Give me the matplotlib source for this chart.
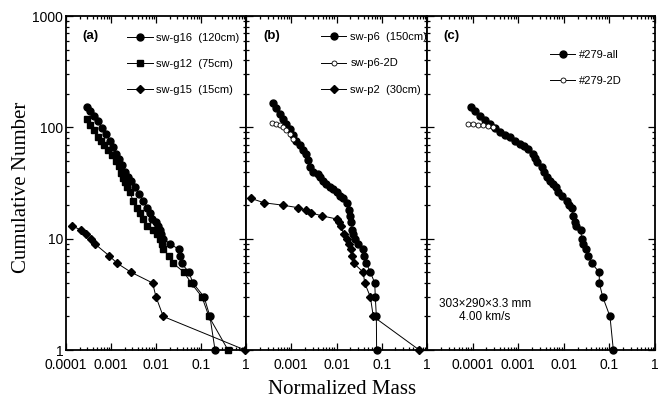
import matplotlib
matplotlib.use("Agg")
import matplotlib.pyplot as plt
from matplotlib.ticker import FixedLocator, FixedFormatter, LogLocator, NullFormatter

# ---------------- data ----------------
# panel (a)
g16_mass = [0.000288, 0.000341, 0.000419, 0.000514, 0.00063, 0.00077, 0.00095, 0.00111, 0.00129,
            0.00151, 0.00175, 0.00205, 0.00239, 0.00278, 0.00341, 0.00419, 0.00514, 0.0063, 0.00736,
            0.00815, 0.0100, 0.0111, 0.0123, 0.0129, 0.0143, 0.0205, 0.0324, 0.0343, 0.0369, 0.054,
            0.066, 0.117, 0.158, 0.205]
g16_n = [152, 140, 126, 113, 98, 87, 75, 66, 58, 52, 46, 40, 36, 33, 29, 25, 22, 19, 17, 15, 14, 13,
         12, 11, 10, 9, 8, 7, 6, 5, 4, 3, 2, 1]

g12_mass = [0.000288, 0.000341, 0.000419, 0.000506, 0.0006, 0.0007, 0.000858, 0.00105, 0.00129,
            0.00151, 0.00167, 0.00185, 0.00205, 0.00227, 0.00264, 0.00308, 0.00378, 0.0044, 0.00514,
            0.0063, 0.00858, 0.0105, 0.0123, 0.0136, 0.0143, 0.0195, 0.024, 0.042, 0.06, 0.105, 0.15,
            0.398]
g12_n = [118, 105, 94, 82, 75, 69, 62, 56, 50, 45, 39, 35, 32, 29, 26, 22, 19, 17, 15, 13, 12, 11,
         10, 9, 8, 7, 6, 5, 4, 3, 2, 1]

g15_mass = [0.000138, 0.000212, 0.000278, 0.000354, 0.000435, 0.000917, 0.00138, 0.00278, 0.0084,
            0.0100, 0.0145, 0.95]
g15_n = [13, 12, 11, 10, 9, 7, 6, 5, 4, 3, 2, 1]

# panel (b)
p6_mass = [0.000392, 0.000464, 0.00055, 0.000655, 0.000774, 0.000916, 0.00109, 0.00129, 0.00153,
           0.00182, 0.00215, 0.00235, 0.00255, 0.00303, 0.00392, 0.0044, 0.00506, 0.006, 0.0071,
           0.00845, 0.0100, 0.0118, 0.0141, 0.0167, 0.0185, 0.0198, 0.0212, 0.0223, 0.0235, 0.026,
           0.0293, 0.038, 0.041, 0.0457, 0.056, 0.070, 0.072, 0.076, 0.077]
p6_n = [166, 149, 133, 120, 108, 96, 85, 76, 69, 63, 58, 51, 44, 40, 38, 36, 33, 31, 29, 28, 26, 24,
        23, 21, 18, 16, 14, 12, 11, 10, 9, 8, 7, 6, 5, 4, 3, 2, 1]

p6_2d_mass = [0.000379, 0.000464, 0.00055, 0.000654, 0.000774, 0.000917, 0.00109]
p6_2d_n = [110, 108, 104, 100, 94, 88, 79]

p2_mass = [0.000129, 0.000251, 0.000647, 0.00139, 0.00216, 0.00278, 0.00489, 0.01026, 0.01125,
           0.0123, 0.0145, 0.0173, 0.0188, 0.0205, 0.0222, 0.0241, 0.039, 0.042, 0.056, 0.065, 0.675]
p2_n = [23, 21, 20, 19, 18, 17, 16, 15, 14, 13, 11, 10, 9, 8, 7, 6, 5, 4, 3, 2, 1]

# panel (c)
all_mass = [0.0000908, 0.000113, 0.000145, 0.000187, 0.000241, 0.00031, 0.000399, 0.000514, 0.000661,
            0.000851, 0.00109, 0.00134, 0.00166, 0.00214, 0.00233, 0.00254, 0.00327, 0.00368, 0.00421,
            0.00498, 0.00589, 0.00675, 0.00757, 0.00936, 0.0116, 0.013, 0.0149, 0.0162, 0.0176, 0.0185,
            0.0235, 0.0247, 0.0268, 0.0307, 0.0345, 0.0409, 0.060, 0.060, 0.0713, 0.103, 0.122]
all_n = [151, 140, 127, 117, 108, 99, 91, 86, 82, 76, 71, 68, 64, 58, 53, 49, 44, 40, 36, 33, 31, 29,
         26, 24, 22, 20, 19, 16, 14, 13, 12, 10, 9, 8, 7, 6, 5, 4, 3, 2, 1]

c2d_mass = [0.0000793, 0.000102, 0.000131, 0.000169, 0.000218, 0.00028]
c2d_n = [108, 107, 106, 105, 103, 100]

x_ticks_ab = [0.0001, 0.001, 0.01, 0.1, 1]
x_labels_a = ["0.0001", "0.001", "0.01", "0.1", "1"]
x_labels_b = ["", "0.001", "0.01", "0.1", "1"]
x_ticks_c = [0.00001, 0.0001, 0.001, 0.01, 0.1, 1]
x_labels_c = ["", "0.0001", "0.001", "0.01", "0.1", "1"]
y_ticks = [1, 10, 100, 1000]
y_labels = ["1", "10", "100", "1000"]

# ---------------- figure ----------------
SANS = ["Liberation Sans", "DejaVu Sans"]
SERIF = ["Liberation Serif", "DejaVu Serif"]
plt.rcParams["font.family"] = SANS

W, H = 662, 408
fig = plt.figure(figsize=(W / 100, H / 100), dpi=100)

def px_axes(x0, x1, y0, y1):
    return fig.add_axes([x0 / W, 1 - y1 / H, (x1 - x0) / W, (y1 - y0) / H])

axa = px_axes(66, 246, 16, 350)
axb = px_axes(246, 427, 16, 350)
axc = px_axes(427, 655, 16, 350)

line_kw = dict(color="black", lw=0.7, clip_on=False)
fill_circle = dict(marker="o", ms=5.0, mfc="black", mec="black")
square = dict(marker="s", ms=4.4, mfc="black", mec="black")
diamond = dict(marker="D", ms=4.3, mfc="black", mec="black")
open_circle = dict(marker="o", ms=3.6, mfc="white", mec="black", mew=0.6)

axa.plot(g16_mass, g16_n, label="sw-g16  (120cm)", **line_kw, **fill_circle)
axa.plot(g12_mass, g12_n, label="sw-g12  (75cm)", **line_kw, **square)
axa.plot(g15_mass, g15_n, label="sw-g15  (15cm)", **line_kw, **diamond)

axb.plot(p6_mass, p6_n, label="sw-p6  (150cm)", **line_kw, **fill_circle)
axb.plot(p6_2d_mass, p6_2d_n, label="sw-p6-2D", **line_kw, **open_circle)
axb.plot(p2_mass, p2_n, label="sw-p2  (30cm)", **line_kw, **diamond)

axc.plot(all_mass, all_n, label="#279-all", **line_kw, **fill_circle)
axc.plot(c2d_mass, c2d_n, label="#279-2D", **line_kw, **open_circle)

for ax, xt, xl, xlim in [(axa, x_ticks_ab, x_labels_a, (1e-4, 1)),
                         (axb, x_ticks_ab, x_labels_b, (1e-4, 1)),
                         (axc, x_ticks_c, x_labels_c, (1e-5, 1))]:
    ax.set_xscale("log")
    ax.set_yscale("log")
    ax.set_xlim(*xlim)
    ax.set_ylim(1, 1000)
    ax.xaxis.set_major_locator(FixedLocator(xt))
    ax.xaxis.set_major_formatter(FixedFormatter(xl))
    ax.xaxis.set_minor_locator(LogLocator(base=10, subs=range(2, 10), numticks=20))
    ax.xaxis.set_minor_formatter(NullFormatter())
    ax.yaxis.set_major_locator(FixedLocator(y_ticks))
    ax.yaxis.set_minor_locator(LogLocator(base=10, subs=range(2, 10), numticks=20))
    ax.yaxis.set_minor_formatter(NullFormatter())
    if ax is axa:
        ax.yaxis.set_major_formatter(FixedFormatter(y_labels))
    else:
        ax.yaxis.set_major_formatter(NullFormatter())
    ax.tick_params(which="both", direction="in", top=True, right=True, width=0.9, labelsize=10)
    ax.tick_params(which="major", length=5)
    ax.tick_params(which="minor", length=2.5)
    ax.tick_params(axis="x", which="major", pad=6)
    ax.tick_params(axis="y", which="major", pad=2)
    for s in ax.spines.values():
        s.set_linewidth(1.3)

leg_kw = dict(loc="upper left", frameon=False, fontsize=8, numpoints=1, borderpad=0,
              borderaxespad=0, handlelength=2.3, handletextpad=0.35, labelspacing=1.45)
axa.legend(bbox_to_anchor=(0.339, 0.949), **leg_kw)
axb.legend(bbox_to_anchor=(0.414, 0.951), **leg_kw)
axc.legend(bbox_to_anchor=(0.539, 0.898), **leg_kw)

for ax, lab, xpx, x0, x1 in [(axa, "(a)", 82, 66, 246), (axb, "(b)", 263, 246, 427),
                             (axc, "(c)", 443, 427, 655)]:
    ax.text((xpx - x0) / (x1 - x0), (350 - 36.5) / 334, lab, transform=ax.transAxes,
            ha="left", va="center", fontsize=9.5, fontweight="bold")

axc.text((485 - 427) / 228, (350 - 310.5) / 334, "303×290×3.3 mm\n4.00 km/s",
         transform=axc.transAxes, ha="center", va="center", fontsize=8.5, linespacing=1.15)

fig.text(22 / W, 1 - 187 / H, "Cumulative Number", rotation=90, ha="center", va="center",
         fontsize=15, family=SERIF)
fig.text(342 / W, 1 - 390 / H, "Normalized Mass", ha="center", va="center",
         fontsize=15, family=SERIF)

fig.savefig("out.png", dpi=100)
